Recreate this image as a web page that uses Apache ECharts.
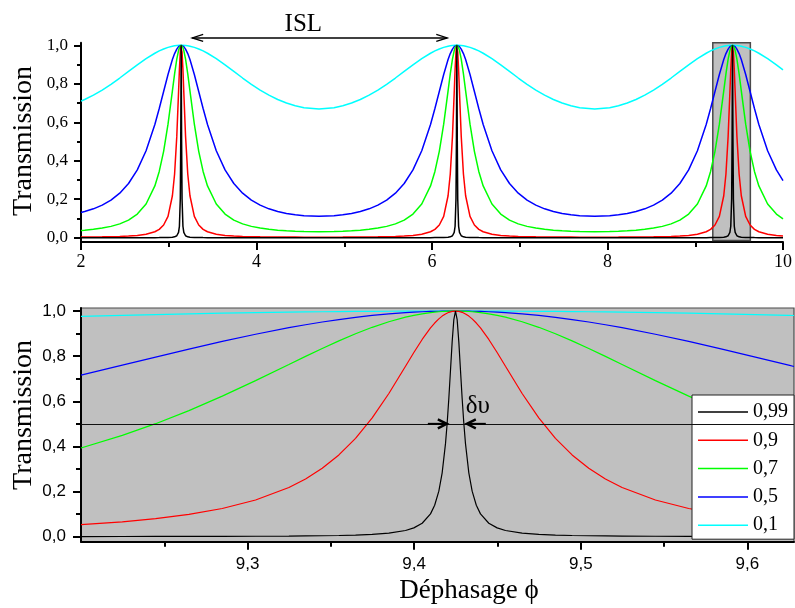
<!DOCTYPE html>
<html>
<head>
<meta charset="utf-8">
<script src="https://cdn.jsdelivr.net/npm/echarts@6/dist/echarts.min.js"></script>
<style>html,body{margin:0;padding:0;background:#fff}#c{width:795px;height:608px}</style>
</head>
<body>
<div id="c"></div>
<script>
// ---------------- data ----------------
const legendNames = ['0,99', '0,9', '0,7', '0,5', '0,1'];

// Top panel: phase values
const phiTop = [
  2, 2.0416, 2.1416, 2.2416, 2.3416, 2.4416, 2.5416, 2.6416, 2.7416, 2.8416, 2.8916, 2.9416, 2.9916, 3.0416, 3.0666, 3.0916, 3.1116, 3.1216, 3.1316, 3.1366, 3.1416,
  3.1466, 3.1516, 3.1616, 3.1716, 3.1916, 3.2166, 3.2416, 3.2916, 3.3416, 3.3916, 3.4416, 3.5416, 3.6416, 3.7416, 3.8416, 3.9416, 4.0416, 4.1416, 4.2416, 4.3416, 4.4416, 4.5416, 4.7124,
  4.8832, 4.9832, 5.0832, 5.1832, 5.2832, 5.3832, 5.4832, 5.5832, 5.6832, 5.7832, 5.8832, 5.9832, 6.0332, 6.0832, 6.1332, 6.1832, 6.2082, 6.2332, 6.2532, 6.2632, 6.2732, 6.2782, 6.2832,
  6.2882, 6.2932, 6.3032, 6.3132, 6.3332, 6.3582, 6.3832, 6.4332, 6.4832, 6.5332, 6.5832, 6.6832, 6.7832, 6.8832, 6.9832, 7.0832, 7.1832, 7.2832, 7.3832, 7.4832, 7.5832, 7.6832, 7.8540,
  8.0248, 8.1248, 8.2248, 8.3248, 8.4248, 8.5248, 8.6248, 8.7248, 8.8248, 8.9248, 9.0248, 9.1248, 9.1748, 9.2248, 9.2748, 9.3248, 9.3498, 9.3748, 9.3948, 9.4048, 9.4148, 9.4198, 9.4248,
  9.4298, 9.4348, 9.4448, 9.4548, 9.4748, 9.4998, 9.5248, 9.5748, 9.6248, 9.6748, 9.7248, 9.8248, 9.9248, 10
];
const top01 = [
  0.7101, 0.7183, 0.7409, 0.7675, 0.7974, 0.8299, 0.8640, 0.8981, 0.9303, 0.9587, 0.9707, 0.9809, 0.9891, 0.9951, 0.9972, 0.9988, 0.9996, 0.9998, 1.0, 1.0, 1,
  1.0, 1.0, 0.9998, 0.9996, 0.9988, 0.9972, 0.9951, 0.9891, 0.9809, 0.9707, 0.9587, 0.9303, 0.8981, 0.8640, 0.8299, 0.7974, 0.7675, 0.7409, 0.7183, 0.6998, 0.6856, 0.6759, 0.6694,
  0.6759, 0.6856, 0.6998, 0.7183, 0.7409, 0.7675, 0.7974, 0.8299, 0.8640, 0.8981, 0.9303, 0.9587, 0.9707, 0.9809, 0.9891, 0.9951, 0.9972, 0.9988, 0.9996, 0.9998, 1.0, 1.0, 1,
  1.0, 1.0, 0.9998, 0.9996, 0.9988, 0.9972, 0.9951, 0.9891, 0.9809, 0.9707, 0.9587, 0.9303, 0.8981, 0.8640, 0.8299, 0.7974, 0.7675, 0.7409, 0.7183, 0.6998, 0.6856, 0.6759, 0.6694,
  0.6759, 0.6856, 0.6998, 0.7183, 0.7409, 0.7675, 0.7974, 0.8299, 0.8640, 0.8981, 0.9303, 0.9587, 0.9707, 0.9809, 0.9891, 0.9951, 0.9972, 0.9988, 0.9996, 0.9998, 1.0, 1.0, 1,
  1.0, 1.0, 0.9998, 0.9996, 0.9988, 0.9972, 0.9951, 0.9891, 0.9809, 0.9707, 0.9587, 0.9303, 0.8981, 0.8725
];
const top05 = [
  0.1313, 0.1360, 0.1500, 0.1692, 0.1954, 0.2315, 0.2816, 0.3523, 0.4518, 0.5887, 0.6713, 0.7600, 0.8484, 0.9262, 0.9570, 0.9804, 0.9929, 0.9968, 0.9992, 0.9998, 1,
  0.9998, 0.9992, 0.9968, 0.9929, 0.9804, 0.9570, 0.9262, 0.8484, 0.7600, 0.6713, 0.5887, 0.4518, 0.3523, 0.2816, 0.2315, 0.1954, 0.1692, 0.1500, 0.1360, 0.1258, 0.1187, 0.1140, 0.1111,
  0.1140, 0.1187, 0.1258, 0.1360, 0.1500, 0.1692, 0.1954, 0.2315, 0.2816, 0.3523, 0.4518, 0.5887, 0.6713, 0.7600, 0.8484, 0.9262, 0.9570, 0.9804, 0.9929, 0.9968, 0.9992, 0.9998, 1,
  0.9998, 0.9992, 0.9968, 0.9929, 0.9804, 0.9570, 0.9262, 0.8484, 0.7600, 0.6713, 0.5887, 0.4518, 0.3523, 0.2816, 0.2315, 0.1954, 0.1692, 0.1500, 0.1360, 0.1258, 0.1187, 0.1140, 0.1111,
  0.1140, 0.1187, 0.1258, 0.1360, 0.1500, 0.1692, 0.1954, 0.2315, 0.2816, 0.3523, 0.4518, 0.5887, 0.6713, 0.7600, 0.8484, 0.9262, 0.9570, 0.9804, 0.9929, 0.9968, 0.9992, 0.9998, 1,
  0.9998, 0.9992, 0.9968, 0.9929, 0.9804, 0.9570, 0.9262, 0.8484, 0.7600, 0.6713, 0.5887, 0.4518, 0.3523, 0.2969
];
const top07 = [
  0.0374, 0.0389, 0.0434, 0.0498, 0.0588, 0.0719, 0.0916, 0.1227, 0.1749, 0.2690, 0.3443, 0.4488, 0.5901, 0.7633, 0.8513, 0.9279, 0.9728, 0.9877, 0.9969, 0.9992, 1,
  0.9992, 0.9969, 0.9877, 0.9728, 0.9279, 0.8513, 0.7633, 0.5901, 0.4488, 0.3443, 0.2690, 0.1749, 0.1227, 0.0916, 0.0719, 0.0588, 0.0498, 0.0434, 0.0389, 0.0357, 0.0335, 0.0320, 0.0311,
  0.0320, 0.0335, 0.0357, 0.0389, 0.0434, 0.0498, 0.0588, 0.0719, 0.0916, 0.1227, 0.1749, 0.2690, 0.3443, 0.4488, 0.5901, 0.7633, 0.8513, 0.9279, 0.9728, 0.9877, 0.9969, 0.9992, 1,
  0.9992, 0.9969, 0.9877, 0.9728, 0.9279, 0.8513, 0.7633, 0.5901, 0.4488, 0.3443, 0.2690, 0.1749, 0.1227, 0.0916, 0.0719, 0.0588, 0.0498, 0.0434, 0.0389, 0.0357, 0.0335, 0.0320, 0.0311,
  0.0320, 0.0335, 0.0357, 0.0389, 0.0434, 0.0498, 0.0588, 0.0719, 0.0916, 0.1227, 0.1749, 0.2690, 0.3443, 0.4488, 0.5901, 0.7633, 0.8513, 0.9279, 0.9728, 0.9877, 0.9969, 0.9992, 1,
  0.9992, 0.9969, 0.9877, 0.9728, 0.9279, 0.8513, 0.7633, 0.5901, 0.4488, 0.3443, 0.2690, 0.1749, 0.1227, 0.0980
];
const top09 = [
  0.0034, 0.0035, 0.0039, 0.0045, 0.0054, 0.0067, 0.0086, 0.0119, 0.0180, 0.0308, 0.0434, 0.0658, 0.1106, 0.2180, 0.3310, 0.5265, 0.7553, 0.8741, 0.9653, 0.9911, 1,
  0.9911, 0.9653, 0.8741, 0.7553, 0.5265, 0.3310, 0.2180, 0.1106, 0.0658, 0.0434, 0.0308, 0.0180, 0.0119, 0.0086, 0.0067, 0.0054, 0.0045, 0.0039, 0.0035, 0.0032, 0.0030, 0.0029, 0.0028,
  0.0029, 0.0030, 0.0032, 0.0035, 0.0039, 0.0045, 0.0054, 0.0067, 0.0086, 0.0119, 0.0180, 0.0308, 0.0434, 0.0658, 0.1106, 0.2180, 0.3310, 0.5265, 0.7553, 0.8741, 0.9653, 0.9911, 1,
  0.9911, 0.9653, 0.8741, 0.7553, 0.5265, 0.3310, 0.2180, 0.1106, 0.0658, 0.0434, 0.0308, 0.0180, 0.0119, 0.0086, 0.0067, 0.0054, 0.0045, 0.0039, 0.0035, 0.0032, 0.0030, 0.0029, 0.0028,
  0.0029, 0.0030, 0.0032, 0.0035, 0.0039, 0.0045, 0.0054, 0.0067, 0.0086, 0.0119, 0.0180, 0.0308, 0.0434, 0.0658, 0.1106, 0.2180, 0.3310, 0.5265, 0.7553, 0.8741, 0.9653, 0.9911, 1,
  0.9911, 0.9653, 0.8741, 0.7553, 0.5265, 0.3310, 0.2180, 0.1106, 0.0658, 0.0434, 0.0308, 0.0180, 0.0119, 0.0093
];
const top099 = [
  0, 0, 0, 0, 0, 0.0001, 0.0001, 0.0001, 0.0002, 0.0003, 0.0004, 0.0006, 0.0011, 0.0025, 0.0045, 0.0100, 0.0273, 0.0594, 0.2016, 0.5025, 1,
  0.5025, 0.2016, 0.0594, 0.0273, 0.0100, 0.0045, 0.0025, 0.0011, 0.0006, 0.0004, 0.0003, 0.0002, 0.0001, 0.0001, 0.0001, 0, 0, 0, 0, 0, 0, 0, 0,
  0, 0, 0, 0, 0, 0, 0, 0.0001, 0.0001, 0.0001, 0.0002, 0.0003, 0.0004, 0.0006, 0.0011, 0.0025, 0.0045, 0.0100, 0.0273, 0.0594, 0.2016, 0.5025, 1,
  0.5025, 0.2016, 0.0594, 0.0273, 0.0100, 0.0045, 0.0025, 0.0011, 0.0006, 0.0004, 0.0003, 0.0002, 0.0001, 0.0001, 0.0001, 0, 0, 0, 0, 0, 0, 0, 0,
  0, 0, 0, 0, 0, 0, 0, 0.0001, 0.0001, 0.0001, 0.0002, 0.0003, 0.0004, 0.0006, 0.0011, 0.0025, 0.0045, 0.0100, 0.0273, 0.0594, 0.2016, 0.5025, 1,
  0.5025, 0.2016, 0.0594, 0.0273, 0.0100, 0.0045, 0.0025, 0.0011, 0.0006, 0.0004, 0.0003, 0.0002, 0.0001, 0.0001
];

// Bottom panel (zoom on the third peak)
const phiBot = [
  9.2, 9.2248, 9.2448, 9.2648, 9.2848, 9.3048, 9.3248, 9.3348, 9.3448, 9.3548, 9.3648, 9.3748, 9.3848, 9.3948, 9.3998, 9.4048, 9.4098, 9.4123, 9.4148, 9.4168, 9.4188, 9.4198, 9.4208, 9.4218, 9.4228, 9.4238, 9.4248,
  9.4258, 9.4268, 9.4278, 9.4288, 9.4298, 9.4308, 9.4328, 9.4348, 9.4373, 9.4398, 9.4448, 9.4498, 9.4548, 9.4648, 9.4748, 9.4848, 9.4948, 9.5048, 9.5148, 9.5248, 9.5448, 9.5648, 9.5848, 9.6048, 9.6248, 9.628
];
const bot099 = [
  0.0005, 0.0006, 0.0008, 0.0010, 0.0013, 0.0018, 0.0025, 0.0031, 0.0039, 0.0051, 0.0070, 0.0100, 0.0155, 0.0273, 0.0388, 0.0594, 0.1009, 0.1391, 0.2016, 0.2829, 0.4123, 0.5025, 0.6122, 0.7373, 0.8633, 0.9619, 1,
  0.9619, 0.8633, 0.7373, 0.6122, 0.5025, 0.4123, 0.2829, 0.2016, 0.1391, 0.1009, 0.0594, 0.0388, 0.0273, 0.0155, 0.0100, 0.0070, 0.0051, 0.0039, 0.0031, 0.0025, 0.0018, 0.0013, 0.0010, 0.0008, 0.0006, 0.0006
];
const bot09 = [
  0.0529, 0.0658, 0.0798, 0.0986, 0.1249, 0.1624, 0.2180, 0.2559, 0.3031, 0.3622, 0.4358, 0.5265, 0.6345, 0.7553, 0.8163, 0.8741, 0.9251, 0.9468, 0.9653, 0.9775, 0.9872, 0.9911, 0.9943, 0.9968, 0.9986, 0.9996, 1,
  0.9996, 0.9986, 0.9968, 0.9943, 0.9911, 0.9872, 0.9775, 0.9653, 0.9468, 0.9251, 0.8741, 0.8163, 0.7553, 0.6345, 0.5265, 0.4358, 0.3622, 0.3031, 0.2559, 0.2180, 0.1624, 0.1249, 0.0986, 0.0798, 0.0658, 0.0639
];
const bot07 = [
  0.3928, 0.4488, 0.5007, 0.5588, 0.6227, 0.6916, 0.7633, 0.7992, 0.8342, 0.8679, 0.8994, 0.9279, 0.9526, 0.9728, 0.9809, 0.9877, 0.9931, 0.9952, 0.9969, 0.9980, 0.9989, 0.9992, 0.9995, 0.9997, 0.9999, 1.0, 1,
  1.0, 0.9999, 0.9997, 0.9995, 0.9992, 0.9989, 0.9980, 0.9969, 0.9952, 0.9931, 0.9877, 0.9809, 0.9728, 0.9526, 0.9279, 0.8994, 0.8679, 0.8342, 0.7992, 0.7633, 0.6916, 0.6227, 0.5588, 0.5007, 0.4488, 0.4411
];
const bot05 = [
  0.7156, 0.7600, 0.7959, 0.8312, 0.8652, 0.8971, 0.9262, 0.9393, 0.9514, 0.9623, 0.9720, 0.9804, 0.9874, 0.9929, 0.9950, 0.9968, 0.9982, 0.9988, 0.9992, 0.9995, 0.9997, 0.9998, 0.9999, 0.9999, 1.0, 1.0, 1,
  1.0, 1.0, 0.9999, 0.9999, 0.9998, 0.9997, 0.9995, 0.9992, 0.9988, 0.9982, 0.9968, 0.9950, 0.9929, 0.9874, 0.9804, 0.9720, 0.9623, 0.9514, 0.9393, 0.9262, 0.8971, 0.8652, 0.8312, 0.7959, 0.7600, 0.7543
];
const bot01 = [
  0.9761, 0.9809, 0.9844, 0.9876, 0.9905, 0.9930, 0.9951, 0.9960, 0.9969, 0.9976, 0.9982, 0.9988, 0.9992, 0.9996, 0.9997, 0.9998, 0.9999, 0.9999, 1.0, 1, 1, 1, 1, 1, 1, 1, 1,
  1, 1, 1, 1, 1, 1, 1, 1.0, 0.9999, 0.9999, 0.9998, 0.9997, 0.9996, 0.9992, 0.9988, 0.9982, 0.9976, 0.9969, 0.9960, 0.9951, 0.9930, 0.9905, 0.9876, 0.9844, 0.9809, 0.9803
];

// Axis ticks / labels
const yTicks = [0, 0.2, 0.4, 0.6, 0.8, 1.0];
const yMinor = [0.1, 0.3, 0.5, 0.7, 0.9];
const xTopTicks = [2, 4, 6, 8, 10];
const xTopMinor = [3, 5, 7, 9];
const xBotTicks = [9.3, 9.4, 9.5, 9.6];
const xBotMinor = [9.25, 9.35, 9.45, 9.55];

// Ranges
const topX = [2, 10], botX = [9.2, 9.628];
const yRange = [-0.0224, 1.0135];
const halfLevel = 0.5;

// ---------------- chart ----------------
const SERIF = 'Liberation Serif';
const SANS = 'Liberation Sans';
const colorOf = {'0,99': '#000000', '0,9': '#ff0000', '0,7': '#00ff00', '0,5': '#0000ff', '0,1': '#00ffff'};
const pairs = (xs, ys) => xs.map((x, i) => [x, ys[i]]);
const fmt1 = v => v.toFixed(1).replace('.', ',');

const chart = echarts.init(document.getElementById('c'), null, {renderer: 'canvas', devicePixelRatio: 1});

function axisX(grid, range, ticks, len, labelOn, font, size, margin, fmt) {
  return {
    gridIndex: grid, type: 'value', position: 'bottom', min: range[0], max: range[1],
    axisLine: {show: labelOn, onZero: false, lineStyle: {color: '#000', width: 2}},
    axisTick: {show: true, customValues: ticks, length: len, inside: false, lineStyle: {color: '#000', width: 2}},
    axisLabel: labelOn ? {show: true, customValues: ticks, margin: margin, fontFamily: font, fontSize: size, color: '#000', formatter: fmt} : {show: false},
    splitLine: {show: false}
  };
}
function axisY(grid, ticks, len, labelOn, font, size, margin) {
  return {
    gridIndex: grid, type: 'value', position: 'left', min: yRange[0], max: yRange[1],
    axisLine: {show: labelOn, onZero: false, lineStyle: {color: '#000', width: 2}},
    axisTick: {show: true, customValues: ticks, length: len, inside: false, lineStyle: {color: '#000', width: 2}},
    axisLabel: labelOn ? {show: true, customValues: ticks, margin: margin, fontFamily: font, fontSize: size, color: '#000', formatter: fmt1} : {show: false},
    splitLine: {show: false}
  };
}

const topSets = [['0,1', top01], ['0,5', top05], ['0,7', top07], ['0,9', top09], ['0,99', top099]];
const botSets = [['0,1', bot01], ['0,5', bot05], ['0,7', bot07], ['0,9', bot09], ['0,99', bot099]];

const series = [];
topSets.forEach(([name, ys], i) => {
  const s = {
    name: name, type: 'line', xAxisIndex: 0, yAxisIndex: 0, symbol: 'none', smooth: false,
    data: pairs(phiTop, ys), color: colorOf[name],
    lineStyle: {color: colorOf[name], width: 1.5}, silent: true
  };
  if (i === 0) {
    s.markArea = {
      silent: true, z: 1,
      itemStyle: {color: '#c0c0c0', borderColor: '#4a4a4a', borderWidth: 1.5},
      data: [[{coord: [botX[0], -0.015]}, {coord: [botX[1], yRange[1]]}]]
    };
  }
  series.push(s);
});
botSets.forEach(([name, ys], i) => {
  const s = {
    name: name, type: 'line', xAxisIndex: 2, yAxisIndex: 2, symbol: 'none', smooth: false,
    data: pairs(phiBot, ys), color: colorOf[name],
    lineStyle: {color: colorOf[name], width: 1.2}, silent: true
  };
  if (i === 0) {
    s.markLine = {
      silent: true, z: 10, symbol: 'none', animation: false,
      label: {show: false},
      lineStyle: {color: '#111', width: 1, type: 'solid'},
      data: [{yAxis: halfLevel}]
    };
  }
  series.push(s);
});

const option = {
  animation: false,
  backgroundColor: '#ffffff',
  grid: [
    {left: 81, top: 42.7, width: 707, height: 199.3, containLabel: false},
    {left: 81, top: 308, width: 713, height: 233.7, containLabel: false, show: true,
     backgroundColor: '#c0c0c0', borderColor: '#4a4a4a', borderWidth: 1.2}
  ],
  xAxis: [
    axisX(0, topX, xTopTicks, 8, true, SERIF, 18, 11, v => String(v)),
    axisX(0, topX, xTopMinor, 5, false),
    axisX(1, botX, xBotTicks, 8, true, SANS, 17, 14, fmt1),
    axisX(1, botX, xBotMinor, 5, false)
  ],
  yAxis: [
    axisY(0, yTicks, 7, true, SERIF, 17, 13),
    axisY(0, yMinor, 4, false),
    axisY(1, yTicks, 8, true, SANS, 17, 15),
    axisY(1, yMinor, 5, false)
  ],
  legend: {
    data: legendNames, orient: 'vertical', left: 692, top: 395,
    icon: 'rect', itemWidth: 50, itemHeight: 1.5, itemGap: 8.3, padding: [7, 6, 4, 6],
    backgroundColor: '#ffffff', borderColor: '#222', borderWidth: 1, borderRadius: 0,
    selectedMode: false,
    textStyle: {fontFamily: SERIF, fontSize: 20, color: '#000', lineHeight: 20}
  },
  series: series
};
chart.setOption(option);

// ---------------- annotations positioned in data units ----------------
const islArrow = {x1: 3.267, x2: 6.174, y: 1.038};
const islText = {x: 4.534, y: 1.111};
const dnuLeft = {tail: 9.4082, tip: 9.4196};
const dnuRight = {tail: 9.443, tip: 9.4316};
const dnuText = {x: 9.4382, y: 0.575};

const pTop = (x, y) => chart.convertToPixel({xAxisIndex: 0, yAxisIndex: 0}, [x, y]);
const pBot = (x, y) => chart.convertToPixel({xAxisIndex: 2, yAxisIndex: 2}, [x, y]);

const g = [];
const a1 = pTop(islArrow.x1, islArrow.y), a2 = pTop(islArrow.x2, islArrow.y);
g.push({type: 'line', z: 100, shape: {x1: a1[0], y1: a1[1], x2: a2[0], y2: a2[1]}, style: {stroke: '#000', lineWidth: 1.3}});
g.push({type: 'polyline', z: 100, shape: {points: [[a1[0] + 11, a1[1] - 3.5], a1, [a1[0] + 11, a1[1] + 3.5]]}, style: {stroke: '#000', lineWidth: 1.3, fill: null}});
g.push({type: 'polyline', z: 100, shape: {points: [[a2[0] - 11, a2[1] - 3.5], a2, [a2[0] - 11, a2[1] + 3.5]]}, style: {stroke: '#000', lineWidth: 1.3, fill: null}});
const it = pTop(islText.x, islText.y);
g.push({type: 'text', z: 100, x: it[0], y: it[1], style: {text: 'ISL', font: '25px "Liberation Serif"', fill: '#000', align: 'center', verticalAlign: 'middle', textAlign: 'center', textVerticalAlign: 'middle'}});

const l1 = pBot(dnuLeft.tail, halfLevel), l2 = pBot(dnuLeft.tip, halfLevel);
g.push({type: 'line', z: 100, shape: {x1: l1[0], y1: l1[1], x2: l2[0], y2: l2[1]}, style: {stroke: '#000', lineWidth: 2}});
g.push({type: 'polyline', z: 100, shape: {points: [[l2[0] - 9, l2[1] - 4.5], l2, [l2[0] - 9, l2[1] + 4.5]]}, style: {stroke: '#000', lineWidth: 2.4, fill: null}});
const r1 = pBot(dnuRight.tail, halfLevel), r2 = pBot(dnuRight.tip, halfLevel);
g.push({type: 'line', z: 100, shape: {x1: r1[0], y1: r1[1], x2: r2[0], y2: r2[1]}, style: {stroke: '#000', lineWidth: 2}});
g.push({type: 'polyline', z: 100, shape: {points: [[r2[0] + 9, r2[1] - 4.5], r2, [r2[0] + 9, r2[1] + 4.5]]}, style: {stroke: '#000', lineWidth: 2.4, fill: null}});
const dt = pBot(dnuText.x, dnuText.y);
g.push({type: 'text', z: 100, x: dt[0], y: dt[1], style: {text: 'δυ', font: '25px "Liberation Serif"', fill: '#000', align: 'center', verticalAlign: 'middle', textAlign: 'center', textVerticalAlign: 'middle'}});

// axis titles
g.push({type: 'text', z: 100, x: 24, y: 141, rotation: Math.PI / 2, style: {text: 'Transmission', font: '28px "Liberation Serif"', fill: '#000', align: 'center', verticalAlign: 'middle', textAlign: 'center', textVerticalAlign: 'middle'}});
g.push({type: 'text', z: 100, x: 24, y: 415, rotation: Math.PI / 2, style: {text: 'Transmission', font: '28px "Liberation Serif"', fill: '#000', align: 'center', verticalAlign: 'middle', textAlign: 'center', textVerticalAlign: 'middle'}});
g.push({type: 'text', z: 100, x: 469, y: 591, style: {text: 'Déphasage ϕ', font: '27px "Liberation Serif"', fill: '#000', align: 'center', verticalAlign: 'middle', textAlign: 'center', textVerticalAlign: 'middle'}});

chart.setOption({graphic: g});
</script>
</body>
</html>
